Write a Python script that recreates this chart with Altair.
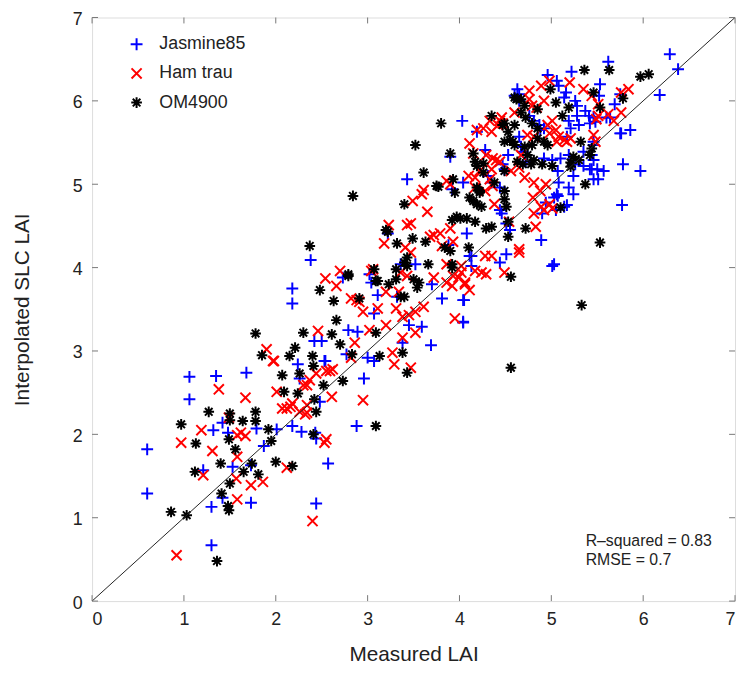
import altair as alt
import pandas as pd

series_names = ["Jasmine85", "Ham trau", "OM4900"]
series_colors = ["#0000ff", "#ff0000", "#000000"]

# (measured LAI, interpolated SLC LAI)
jasmine85 = [
    (1.06, 2.69), (1.35, 2.70), (1.68, 2.74), (1.06, 2.42), (0.60, 1.82), (0.60, 1.29),
    (1.30, 0.67), (1.30, 1.13), (1.73, 1.18), (2.44, 1.17), (2.57, 1.65), (1.42, 2.14),
    (1.32, 2.05), (1.79, 2.07), (2.01, 2.06), (2.18, 2.10), (2.28, 2.03), (2.43, 2.02),
    (2.44, 1.95), (1.87, 1.86), (1.53, 1.61), (1.73, 1.63), (1.21, 1.57), (1.42, 1.24),
    (2.24, 2.84), (2.26, 2.67), (2.53, 2.88), (2.48, 2.39), (1.48, 2.02),
    (2.38, 4.09), (2.18, 3.75), (2.18, 3.57), (2.42, 3.12), (2.50, 3.12), (2.54, 2.88),
    (2.79, 3.25), (2.89, 3.23), (2.77, 2.96), (2.96, 2.67), (3.00, 2.92), (3.07, 2.88),
    (2.88, 2.10), (2.73, 3.88), (3.02, 3.92), (3.04, 3.82), (3.07, 3.45), (3.22, 4.41),
    (3.36, 4.04), (3.52, 4.04), (3.70, 3.80), (3.81, 3.63), (3.59, 3.29), (3.45, 3.31),
    (3.38, 3.10), (3.69, 3.07), (4.04, 3.61), (4.04, 3.35), (4.08, 4.41), (4.13, 4.14),
    (3.11, 3.67), (3.32, 3.65), (3.88, 4.27), (3.92, 4.94),
    (4.03, 5.76), (3.90, 5.33), (4.04, 5.02), (4.19, 5.63), (4.28, 5.41), (4.47, 5.24),
    (4.49, 5.18), (4.31, 5.10), (4.35, 5.02), (4.44, 4.96), (4.63, 6.14), (4.65, 6.08),
    (5.62, 6.47), (5.22, 6.35), (4.96, 6.31), (5.06, 6.24), (5.08, 6.18), (5.53, 6.20),
    (5.16, 6.10), (5.14, 6.04), (5.52, 6.06), (4.60, 6.06), (4.65, 6.00), (5.75, 6.08),
    (5.26, 6.00), (5.28, 5.94), (5.37, 5.88), (5.41, 5.82), (5.46, 5.80), (5.48, 5.75),
    (5.42, 5.73), (5.64, 5.80), (5.28, 5.82), (5.30, 5.71), (5.75, 5.61), (4.76, 5.82),
    (4.81, 5.76), (4.87, 5.71), (4.88, 5.65), (4.92, 5.67), (5.19, 5.76), (5.21, 5.67),
    (5.17, 5.57), (4.65, 5.57), (4.67, 5.45), (5.35, 5.39), (5.46, 5.51), (6.29, 6.56),
    (6.38, 6.38), (6.18, 6.07), (5.69, 5.96), (5.60, 5.80), (5.76, 5.61), (5.86, 5.65),
    (5.78, 5.24), (5.97, 5.16), (5.77, 4.75), (5.03, 4.04), (5.42, 5.18), (5.50, 5.18),
    (5.57, 5.16), (5.46, 5.06), (5.51, 5.06), (5.24, 4.88), (5.17, 4.75), (5.46, 5.47),
    (5.44, 5.35), (5.46, 5.29), (5.01, 4.02), (4.44, 4.06), (4.51, 4.16), (4.05, 3.61),
    (4.04, 3.34), (4.11, 4.14), (4.13, 4.02), (3.43, 5.06), (4.44, 4.69), (4.46, 4.65),
    (4.51, 4.53), (4.55, 4.45), (4.89, 4.33), (4.90, 4.65), (4.94, 4.78), (5.03, 4.84),
    (5.06, 4.88), (5.05, 4.69), (5.14, 4.73), (5.19, 4.96), (4.53, 5.35), (4.69, 5.39),
    (4.72, 5.27), (4.92, 5.31), (5.01, 5.29), (5.19, 5.35), (5.26, 5.24), (5.35, 5.22),
    (5.44, 5.18), (5.10, 5.31), (5.07, 5.16), (5.08, 5.02), (5.24, 5.10), (5.07, 4.86),
]

ham_trau = [
    (1.38, 2.54), (1.67, 2.44), (0.97, 1.90), (1.19, 2.05), (1.31, 1.80), (1.49, 2.20),
    (1.58, 1.99), (1.67, 1.98), (1.58, 1.73), (1.21, 1.51), (1.57, 1.47), (1.73, 1.39),
    (1.86, 1.43), (1.58, 1.22), (0.92, 0.55), (2.40, 0.96), (2.53, 1.90), (2.12, 1.60),
    (1.97, 2.88), (2.01, 2.51), (2.07, 2.31), (2.16, 2.33), (2.26, 2.27), (2.34, 2.59),
    (2.44, 2.73), (2.59, 2.76), (2.61, 2.45), (2.32, 2.24),
    (1.90, 3.02), (1.98, 2.88), (2.46, 3.24), (2.54, 3.87), (2.66, 3.78), (2.12, 2.31),
    (2.18, 2.37), (2.34, 2.35), (2.34, 2.26), (2.30, 2.59), (2.37, 2.65), (2.55, 2.76),
    (2.62, 2.78), (2.55, 1.94), (1.62, 2.02), (2.86, 3.10), (2.82, 2.92), (2.95, 2.41),
    (2.88, 3.61), (2.95, 3.47), (3.06, 3.98), (3.02, 3.25), (3.11, 3.51), (3.20, 3.31),
    (3.27, 2.98), (3.29, 2.84), (3.38, 3.16), (3.31, 3.51), (3.38, 3.41), (3.45, 3.43),
    (3.52, 3.47), (3.61, 3.53), (3.47, 2.80), (3.43, 4.51), (3.65, 4.67), (3.23, 4.51),
    (3.18, 4.29), (3.41, 4.24), (3.72, 4.39), (3.79, 4.41), (3.72, 3.88), (3.86, 3.82),
    (3.95, 3.39), (3.99, 3.88), (4.06, 3.82), (3.81, 4.26), (3.93, 4.31), (3.52, 3.22),
    (3.49, 4.80), (3.59, 4.88), (3.47, 4.53), (3.68, 4.37), (3.90, 4.47), (3.47, 4.18),
    (3.86, 4.04), (3.93, 3.90), (4.02, 3.94), (2.70, 3.96), (3.04, 3.96), (3.36, 3.94),
    (3.43, 3.90), (3.20, 3.71), (3.34, 3.71), (2.82, 3.63), (2.91, 3.59), (4.49, 3.94),
    (4.28, 4.14), (4.35, 4.14), (4.24, 3.94), (4.29, 3.92), (4.17, 3.96), (4.06, 3.80),
    (4.11, 3.73), (4.02, 4.02), (4.65, 4.18), (3.92, 3.78),
    (3.61, 4.93), (3.86, 5.04), (3.90, 5.00), (4.19, 5.65), (4.26, 5.67), (4.35, 5.63),
    (4.33, 5.76), (4.44, 5.76), (4.11, 5.49), (4.15, 5.37), (4.29, 5.35), (4.36, 5.31),
    (4.40, 5.29), (4.22, 5.16), (4.35, 5.18), (4.17, 5.08), (4.10, 5.10), (4.76, 6.12),
    (4.98, 6.24), (5.20, 6.22), (4.76, 6.02), (5.35, 6.14), (5.44, 6.06), (4.92, 6.00),
    (5.51, 5.96), (4.79, 5.94), (4.84, 5.92), (5.51, 5.82), (5.62, 5.84), (5.68, 5.76),
    (4.46, 5.80), (4.47, 5.73), (4.42, 5.71), (4.60, 5.86), (4.96, 5.71), (4.98, 5.61),
    (5.05, 5.65), (5.01, 5.76), (5.08, 5.57), (5.14, 5.53), (5.17, 5.51), (4.74, 5.59),
    (4.81, 5.57), (5.76, 6.10), (5.84, 6.14), (5.76, 5.86), (5.46, 5.59), (5.48, 5.51),
    (4.44, 5.27), (4.71, 5.08), (4.65, 5.20), (4.56, 5.16), (4.67, 5.35), (4.89, 4.73),
    (4.92, 4.69), (4.98, 4.76), (5.01, 4.71), (4.83, 4.49), (4.81, 4.65), (4.54, 4.55),
    (4.65, 4.22), (4.89, 6.18), (5.06, 5.51), (5.21, 5.55), (5.49, 5.78), (4.17, 4.96),
    (4.28, 4.92), (4.36, 4.98), (4.33, 5.06), (4.38, 4.76), (4.80, 4.84), (4.81, 5.02),
    (4.88, 4.92), (4.94, 5.00),
]

om4900 = [
    (1.27, 2.27), (0.97, 2.12), (1.13, 1.89), (1.50, 2.25), (1.50, 2.17), (1.64, 2.16),
    (1.78, 2.27), (1.78, 2.16), (1.92, 2.06), (1.95, 1.92), (1.49, 1.94), (1.56, 1.82),
    (1.40, 1.65), (1.12, 1.55), (1.65, 1.55), (1.74, 1.65), (1.81, 1.52), (2.00, 1.67),
    (2.18, 1.62), (1.50, 1.41), (1.41, 1.29), (1.48, 1.14), (1.49, 1.09), (0.86, 1.07),
    (1.03, 1.03), (1.36, 0.48), (1.85, 2.95), (2.15, 2.94), (2.07, 2.71), (2.09, 2.51),
    (2.26, 2.73), (2.24, 2.49), (2.40, 2.94), (2.41, 2.82), (2.42, 2.42), (2.52, 2.59),
    (2.41, 2.00), (2.44, 2.27),
    (2.37, 4.26), (2.48, 3.73), (2.63, 3.60), (2.79, 3.92), (1.78, 3.21), (2.30, 3.22),
    (2.21, 3.04), (2.73, 2.64), (2.61, 3.20), (2.66, 3.37), (2.70, 3.08), (2.83, 2.96),
    (2.91, 3.63), (3.09, 3.22), (3.13, 2.94), (3.38, 2.98), (3.43, 2.74), (3.09, 2.10),
    (3.22, 4.43), (3.32, 4.29), (3.49, 4.35), (3.63, 4.31), (3.09, 3.84), (3.23, 3.80),
    (3.31, 3.98), (3.40, 4.06), (3.43, 4.02), (3.50, 3.86), (3.54, 3.76), (3.56, 3.82),
    (3.66, 4.04), (3.40, 3.65), (3.92, 4.04), (3.84, 4.24), (4.01, 4.59), (4.10, 4.24),
    (3.40, 4.76), (2.84, 4.86), (3.77, 4.97), (3.95, 4.90), (3.20, 4.45), (3.92, 4.57),
    (3.97, 4.61), (3.90, 4.20), (3.43, 4.12), (3.92, 4.00), (2.79, 3.90), (3.07, 3.98),
    (3.11, 3.84), (3.31, 3.86), (3.36, 3.65), (4.56, 3.89), (5.33, 3.55), (4.56, 2.80),
    (5.53, 4.30),
    (3.80, 5.73), (3.90, 5.37), (3.61, 5.14), (3.52, 5.47), (3.75, 4.98), (3.93, 5.06),
    (4.35, 5.82), (4.47, 5.71), (4.15, 5.37), (4.17, 5.27), (4.19, 5.22), (4.26, 5.25),
    (4.49, 5.16), (4.26, 5.14), (4.38, 5.02), (4.22, 4.90), (4.19, 4.96), (4.49, 4.92),
    (4.62, 6.02), (4.67, 6.02), (4.71, 5.94), (4.67, 5.86), (4.72, 5.80), (4.79, 5.73),
    (4.85, 5.67), (4.58, 5.51), (4.71, 5.45), (4.79, 5.47), (4.63, 5.27), (4.69, 5.24),
    (4.78, 5.24), (4.81, 5.29), (5.63, 6.37), (5.36, 6.37), (4.99, 6.14), (5.46, 6.10),
    (5.05, 5.98), (5.53, 5.92), (4.60, 6.04), (4.85, 5.90), (5.19, 5.92), (5.12, 5.82),
    (4.60, 5.71), (4.49, 5.73), (4.53, 5.63), (4.55, 5.53), (4.60, 5.47), (4.49, 5.51),
    (4.85, 5.55), (4.92, 5.51), (4.96, 5.47), (5.32, 5.51), (5.44, 5.43), (5.42, 5.35),
    (5.97, 6.29), (6.06, 6.32), (5.78, 6.03), (5.37, 5.00), (5.10, 4.72), (5.24, 5.33),
    (5.30, 5.29), (5.21, 5.21), (4.08, 4.59), (4.17, 4.55), (4.11, 4.84), (4.15, 4.80),
    (4.19, 4.76), (4.22, 4.92), (4.24, 4.73), (4.49, 4.82), (4.51, 4.73), (4.53, 4.55),
    (4.53, 4.37), (4.35, 4.49), (4.29, 4.47), (4.72, 4.47), (4.74, 5.35), (4.90, 5.24),
    (5.01, 5.22), (5.21, 5.26),
]

tick_values = [0, 1, 2, 3, 4, 5, 6, 7]
line_ends = [0, 7]
stats_lines = ["R\u2013squared = 0.83", "RMSE = 0.7"]

rows = []
for name, pts in zip(series_names, [jasmine85, ham_trau, om4900]):
    for mx, iy in pts:
        rows.append({"measured": mx, "interpolated": iy, "variety": name})
df = pd.DataFrame(rows)
df_line = pd.DataFrame({"measured": line_ends, "interpolated": line_ends})
df_ticks = pd.DataFrame({"measured": tick_values, "interpolated": tick_values})

FONT = "Liberation Sans"
W, H = 650, 590
xs = alt.Scale(domain=[0, 7], nice=False, zero=False)
ys = alt.Scale(domain=[0, 7], nice=False, zero=False)

x_axis = alt.Axis(values=tick_values, format="d", title="Measured LAI", grid=False, ticks=False,
                  domain=False, labelFontSize=18, labelPadding=10, titleFontSize=21,
                  titleFontWeight="normal", titlePadding=15, labelColor="#222",
                  titleColor="#222", labelFont=FONT, titleFont=FONT)
y_axis = alt.Axis(values=tick_values, format="d", title="Interpolated SLC LAI", grid=False, ticks=False,
                  domain=False, labelFontSize=18, labelPadding=10, labelOffset=2, titleFontSize=21,
                  titleFontWeight="normal", titlePadding=40, labelColor="#222",
                  titleColor="#222", labelFont=FONT, titleFont=FONT)

X = alt.X("measured:Q", scale=xs, axis=x_axis)
Y = alt.Y("interpolated:Q", scale=ys, axis=y_axis)

shape_paths = [
    "M-1,0L1,0M0,-1L0,1",
    "M-0.85,-0.85L0.85,0.85M-0.85,0.85L0.85,-0.85",
    "M-0.9,0L0.9,0M0,-0.9L0,0.9M-0.64,-0.64L0.64,0.64M-0.64,0.64L0.64,-0.64",
]

legend = alt.Legend(title=None, orient="none", legendX=36, legendY=18, labelFontSize=18,
                    labelFont=FONT, labelColor="#222", symbolSize=144, symbolStrokeWidth=2,
                    rowPadding=9.5, labelOffset=14, padding=0)

points = alt.Chart(df).mark_point(filled=False, size=144, opacity=1).encode(
    x=X, y=Y,
    color=alt.Color("variety:N", scale=alt.Scale(domain=series_names, range=series_colors), legend=legend),
    shape=alt.Shape("variety:N", scale=alt.Scale(domain=series_names, range=shape_paths), legend=legend),
    strokeWidth=alt.StrokeWidth("variety:N", scale=alt.Scale(domain=series_names, range=[2, 2, 1.0]), legend=None),
)

diag = alt.Chart(df_line).mark_line(color="#222", strokeWidth=1).encode(x=X, y=Y)

tick_style = dict(color="#777", strokeWidth=1)
t_bottom = alt.Chart(df_ticks).mark_rule(**tick_style).encode(
    x=X, y=alt.value(H), y2=alt.value(H - 6))
t_top = alt.Chart(df_ticks).mark_rule(**tick_style).encode(
    x=X, y=alt.value(0), y2=alt.value(6))
t_left = alt.Chart(df_ticks).mark_rule(**tick_style).encode(
    y=Y, x=alt.value(0), x2=alt.value(6))
t_right = alt.Chart(df_ticks).mark_rule(**tick_style).encode(
    y=Y, x=alt.value(W), x2=alt.value(W - 6))

text_style = dict(align="left", baseline="middle", fontSize=16, font=FONT, color="#222")
stats1 = alt.Chart(pd.DataFrame({"line": [stats_lines[0]]})).mark_text(**text_style).encode(
    x=alt.value(499), y=alt.value(529), text="line:N")
stats2 = alt.Chart(pd.DataFrame({"line": [stats_lines[1]]})).mark_text(**text_style).encode(
    x=alt.value(499), y=alt.value(549), text="line:N")

chart = alt.layer(points, diag, t_bottom, t_top, t_left, t_right, stats1, stats2).properties(
    width=W, height=H, autosize="none",
    padding={"left": 85, "top": 6, "right": 2, "bottom": 60},
).configure_view(stroke="#222", strokeWidth=1).configure(background="white")

chart.save("out.html", embed_options={"renderer": "svg", "actions": False})
